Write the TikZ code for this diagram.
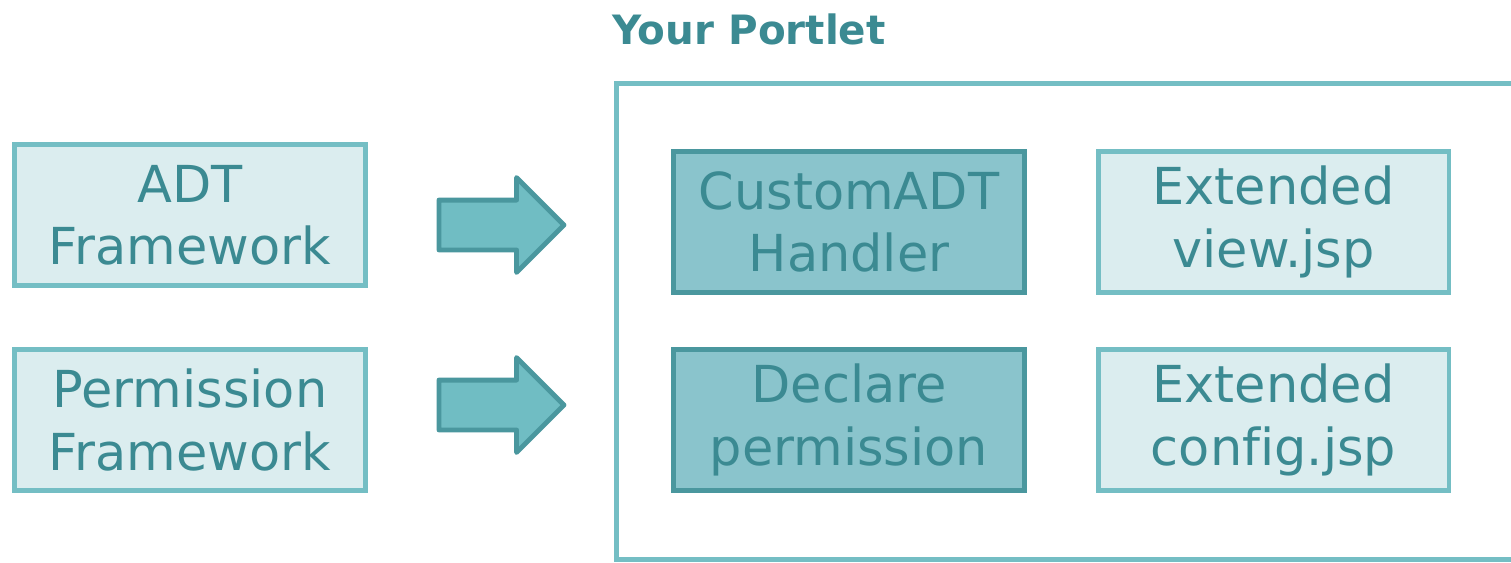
\documentclass[tikz,border=0pt]{standalone}
\usepackage{fontspec}
\setmainfont[Ligatures=NoCommon]{DejaVu Sans}
\usepackage{tikz}
\usetikzlibrary{positioning, shapes.arrows, calc}
\definecolor{txtteal}{HTML}{3B8A92}
\definecolor{lightfill}{HTML}{DBEDEF}
\definecolor{lightline}{HTML}{74BEC4}
\definecolor{darkfill}{HTML}{8AC4CC}
\definecolor{darkline}{HTML}{4A979E}
\definecolor{arrowfill}{HTML}{70BDC3}

\begin{document}
\begin{tikzpicture}[x=0.02cm, y=-0.02cm,
    font=\fontsize{29}{35.5}\selectfont,
    box/.style={draw=lightline, fill=lightfill, line width=2.8pt, text=txtteal,
      minimum width=7.02cm, minimum height=2.82cm, align=center, inner sep=0pt},
    darkbox/.style={box, draw=darkline, fill=darkfill},
    bigarrow/.style={single arrow, draw=darkline, fill=arrowfill, line width=2.8pt,
      minimum height=2.5cm, minimum width=0pt, inner xsep=0pt, inner ysep=0.45cm,
      single arrow head extend=0.45cm, line join=round}]
 			\useasboundingbox (0,0) rectangle (1511,562);
 			
 			% Frameworks
 			\node[box] (adt) at (190,215) {ADT\\Framework};
 			\node[box] (perm) at (190,420) {Permission\\Framework};
 			
 			% Arrows into the portlet
 			\node[bigarrow] (arrA) at (489,225) {};
 			\node[bigarrow] (arrB) at (489,405) {};
 			
 			% Portlet frame and title
 			\draw[lightline, line width=2.8pt] (1530,83.5) -- (616.5,83.5) -- (616.5,559.5) -- (1530,559.5);
 			\node[anchor=base west, text=txtteal, font=\fontsize{23}{28}\selectfont\bfseries, inner sep=0pt] (title) at (612,44) {Your Portlet};
 			
 			% Portlet parts
 			\node[darkbox] (handler) at (849,222) {CustomADT\\Handler};
 			\node[box] (view) at (1273.5,222) {Extended\\view.jsp};
 			\node[darkbox] (declare) at (849,420) {Declare\\permission};
 			\node[box] (config) at (1273.5,420) {Extended\\config.jsp};
 			
 		\end{tikzpicture}
\end{document}
